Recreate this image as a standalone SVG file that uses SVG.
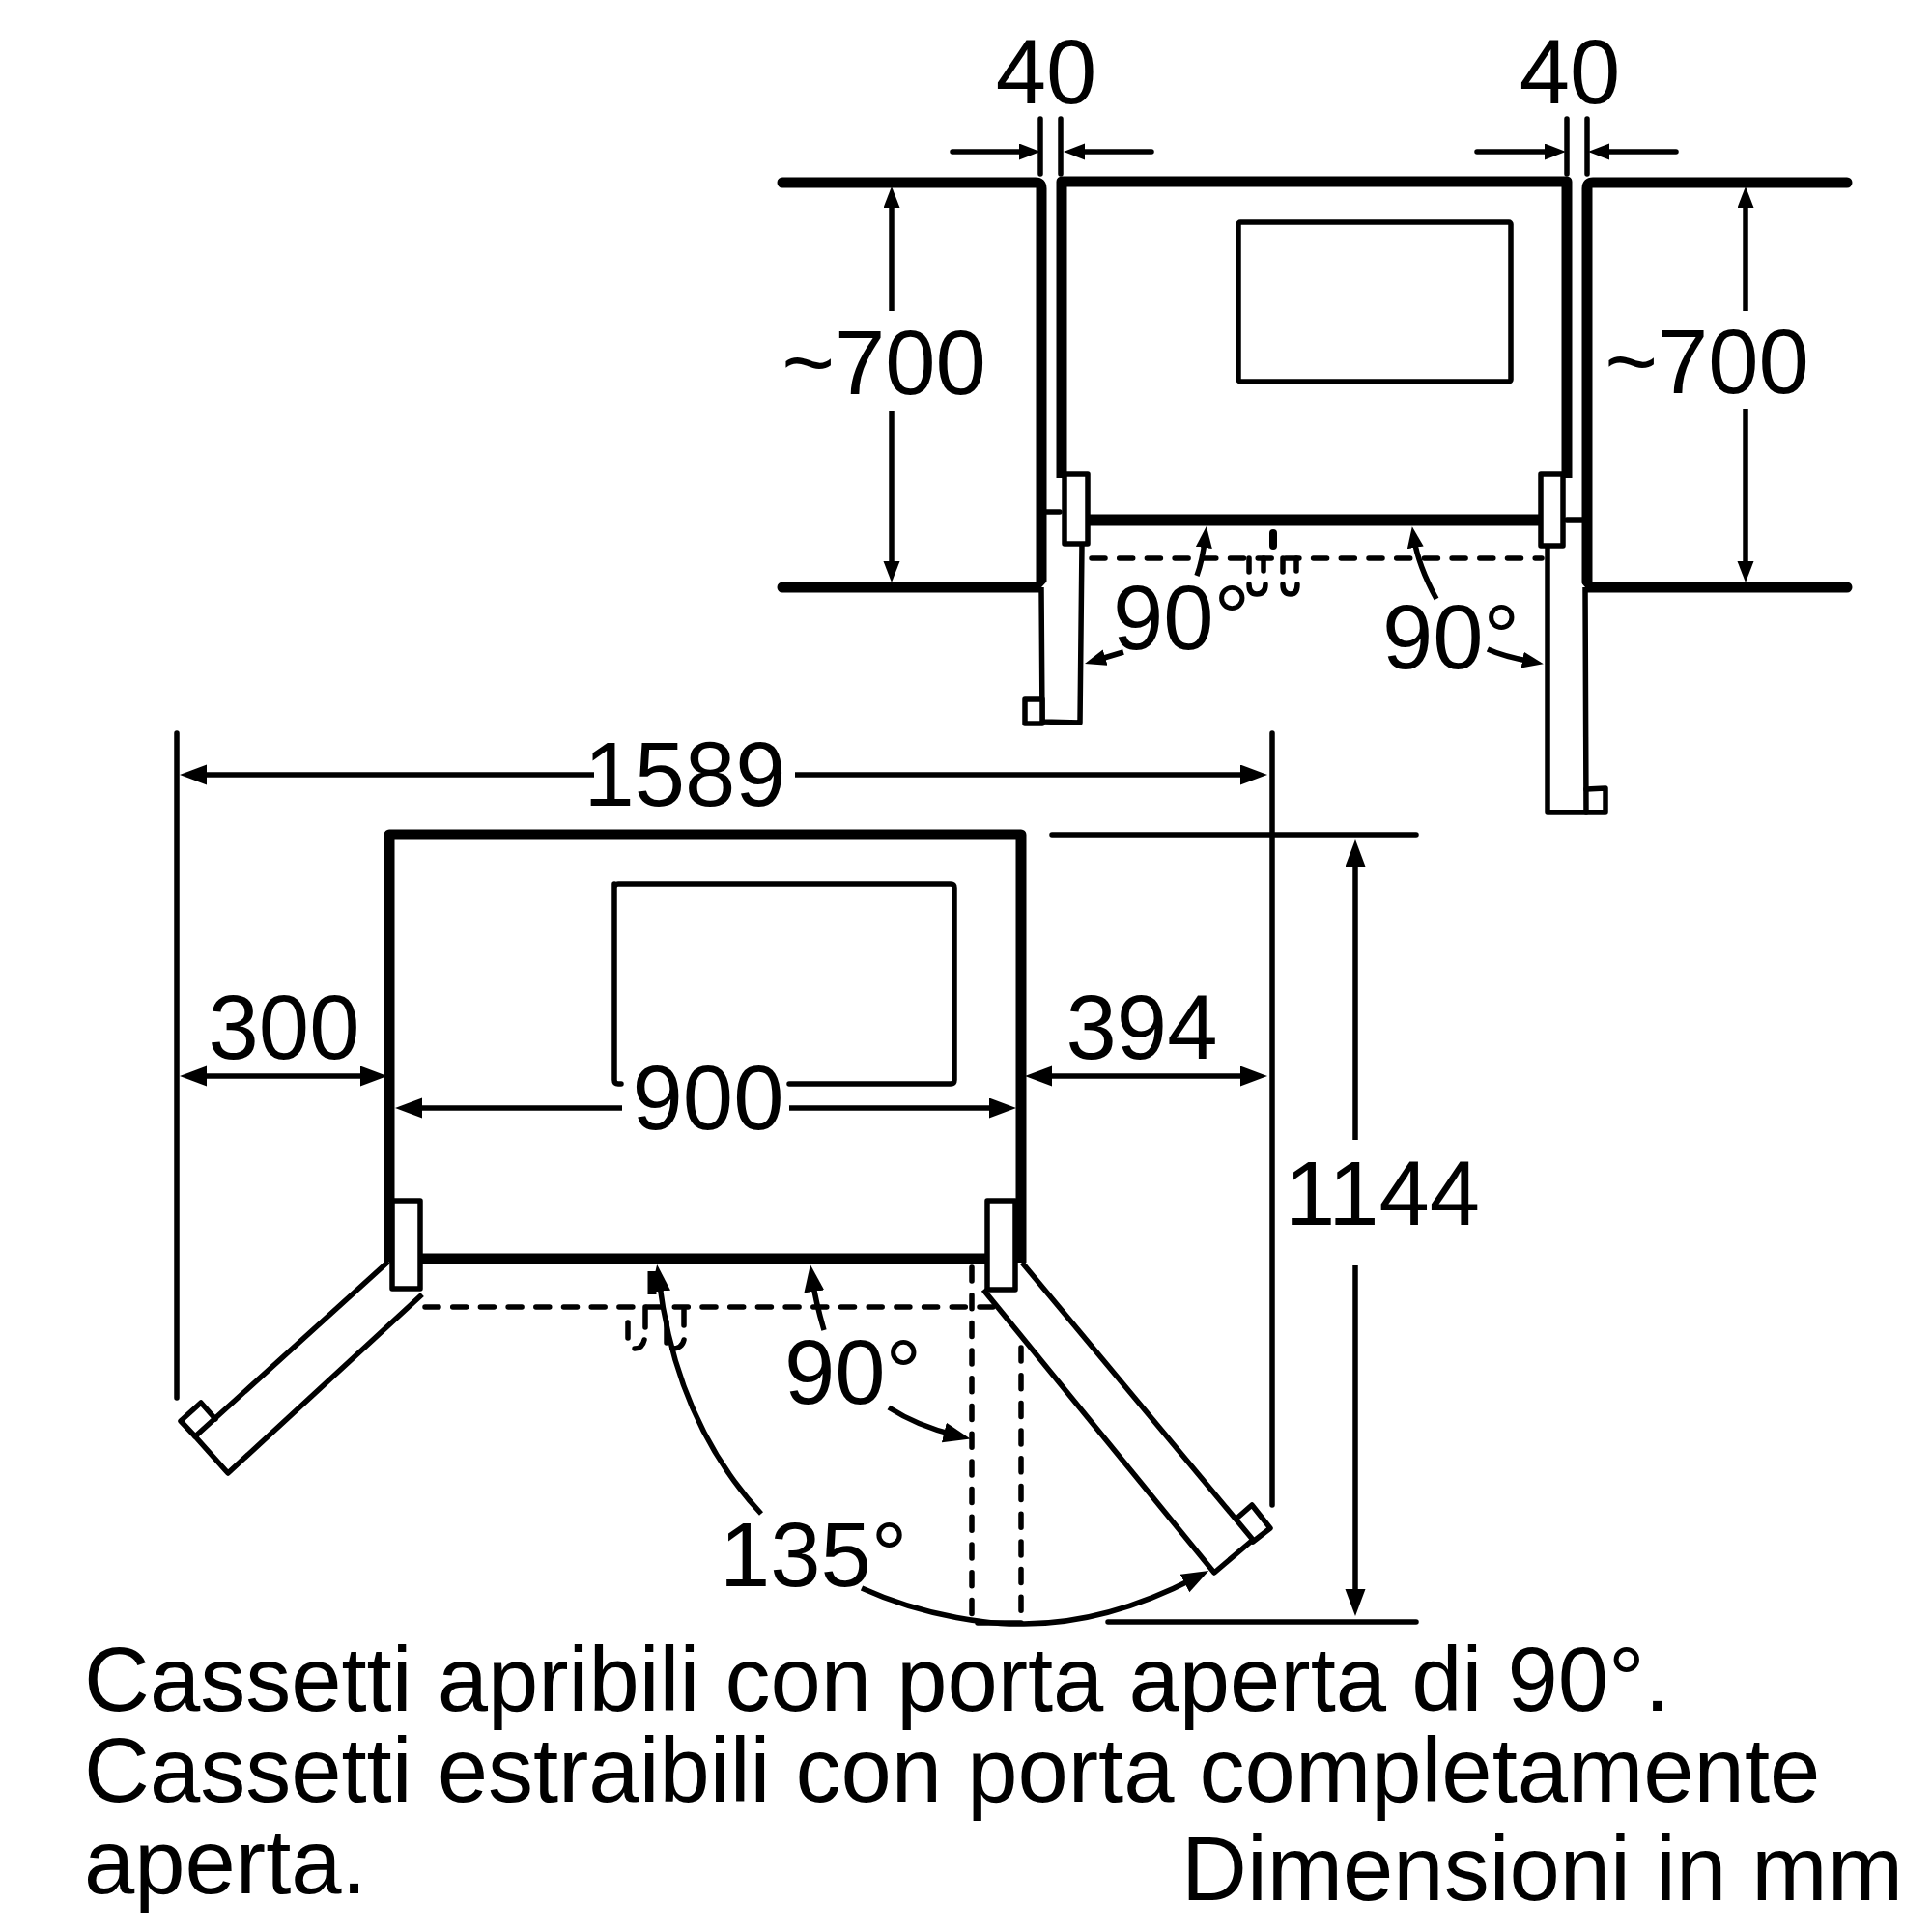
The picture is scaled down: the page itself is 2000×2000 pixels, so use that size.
<svg xmlns="http://www.w3.org/2000/svg" width="2000" height="2000" viewBox="0 0 2000 2000">
<style>
text{font-family:"Liberation Sans",Arial,sans-serif;font-size:94px;fill:#000}
.m{text-anchor:middle}
path,line,rect,polygon,polyline{stroke:#000;fill:none;stroke-linejoin:round}
.wall{stroke-width:11;stroke-linecap:round}
.thin{stroke-width:5.5;stroke-linecap:round}
.door{stroke-width:5.5;fill:#fff}
.dash{stroke-width:5.5;stroke-linecap:round;stroke-dasharray:14 14.7}
.stub{stroke-width:5.5;stroke-linecap:round}
.a{marker-end:url(#ah)}
.b{marker-end:url(#ahb)}
.bb{marker-start:url(#ahb);marker-end:url(#ahb)}
.arc{stroke-width:5.5}
</style>
<defs>
<marker id="ah" markerUnits="userSpaceOnUse" markerWidth="24" markerHeight="19" refX="10" refY="8.5" orient="auto-start-reverse"><path d="M0,0L22,8.5L0,17Z" style="fill:#000;stroke:none"/></marker>
<marker id="ahb" markerUnits="userSpaceOnUse" markerWidth="30" markerHeight="23" refX="13" refY="10.5" orient="auto-start-reverse"><path d="M0,0L28,10.5L0,21Z" style="fill:#000;stroke:none"/></marker>
</defs>

<g id="top-niche">
<path class="wall" d="M810,189H1072Q1078,189 1078,195V608H810"/>
<path class="wall" d="M1912,189H1649Q1643,189 1643,195V608H1912"/>
</g>
<g id="top-fridge">
<path class="wall" style="stroke-linecap:butt" d="M1099,495V188H1622V495"/>
<path class="wall" style="stroke-linecap:butt" d="M1120,538H1600"/>
<rect class="thin" x="1282" y="230" width="282" height="165" rx="2"/>
</g>
<g id="top-door-left">
<path class="door" d="M1078,608L1079,747L1118,748L1120,563"/>
<path class="stub" d="M1083,530H1097"/>
<rect class="thin" x="1061" y="724" width="18" height="25" style="fill:#fff"/>
<rect class="door" x="1102" y="491" width="24" height="72"/>
</g>
<g id="top-door-right">
<path class="door" d="M1602,563V841H1642L1641,608"/>
<path class="stub" d="M1622,538H1640"/>
<path class="thin" d="M1642,817L1662,816V841H1642"/>
<rect class="door" x="1595" y="491" width="23" height="74"/>
</g>
<g id="top-handles">
<line class="dash" x1="1130" y1="578" x2="1596" y2="578"/>
<path style="stroke-width:8;stroke-linecap:round" d="M1318,552V565"/>
<path class="stub" d="M1293,578V592M1308,578V591M1328,578V592M1342,578V591"/>
<path class="stub" d="M1293,605Q1293,615 1301,615Q1310,615 1310,605M1328,605Q1328,615 1336,615Q1343,615 1343,605"/>
</g>

<g id="plan-fridge">
<path class="wall" style="stroke-linecap:butt" d="M403,1307V864H1057V1307"/>
<path class="wall" style="stroke-linecap:butt" d="M432,1303H1024"/>
<path class="thin" d="M636,915V1118Q636,1122 640,1122H643M817,1122H984Q988,1122 988,1118V919Q988,915 984,915H640Q636,915 636,919"/>
</g>
<g id="plan-door-left">
<path class="door" d="M402,1306L202,1487L236,1525L437,1340"/>
<path class="thin" d="M202,1487L187,1471L208,1452L223,1469"/>
<rect class="door" x="406" y="1243" width="29" height="91"/>
</g>
<g id="plan-door-right">
<path class="door" d="M1058,1307L1297,1594L1257,1628L1018,1335"/>
<path class="thin" d="M1280,1572L1296,1558L1315,1582L1297,1596"/>
<rect class="door" x="1022" y="1243" width="29" height="92"/>
</g>
<g id="plan-handles">
<line class="dash" x1="440" y1="1353" x2="1028" y2="1353"/>
<line class="dash" x1="1006" y1="1312" x2="1006" y2="1676"/>
<line class="dash" x1="1057" y1="1395" x2="1057" y2="1672"/>
<path style="stroke-width:9" d="M675,1316V1340"/>
<path class="stub" d="M650,1369V1385M668,1353V1374M690,1368V1390M708,1356V1372"/>
<path class="stub" d="M667,1387Q665,1396 657,1396M708,1387Q706,1396 696,1396"/>
</g>

<g id="connectors">
<path class="thin" d="M1077,123V180M1098,123V180M1622,123V180M1643,123V180"/>
<path class="thin a" d="M986,157H1065"/>
<path class="thin a" d="M1192,157H1113"/>
<path class="thin a" d="M1529,157H1609"/>
<path class="thin a" d="M1735,157H1656"/>
<path class="thin a" style="stroke-linecap:butt" d="M923,322V205"/>
<path class="thin a" style="stroke-linecap:butt" d="M923,425V591"/>
<path class="thin a" style="stroke-linecap:butt" d="M1807,322V205"/>
<path class="thin a" style="stroke-linecap:butt" d="M1807,423V591"/>
<path class="arc a" d="M1239,596C1243,585 1246,570 1247.5,557"/>
<path class="arc a" d="M1487,620C1475,598 1467,578 1463.7,557"/>
<path class="arc a" d="M1163,675L1134.5,683.5"/>
<path class="arc a" d="M1540,672C1555,679 1570,682 1586,685"/>
<path class="thin" d="M183,759V1447M1317,759V1558"/>
<path class="thin" d="M1089,864H1466M1147,1679H1466M1012,1680H1057"/>
<path class="arc b" d="M615,802H201"/>
<path class="arc b" d="M823,802H1297"/>
<path class="arc bb" d="M201,1114H386"/>
<path class="arc bb" d="M1076,1114H1297"/>
<path class="arc b" d="M644,1147H424"/>
<path class="arc b" d="M817,1147H1037"/>
<path class="arc b" d="M1403,1180V884"/>
<path class="arc b" d="M1403,1310V1658"/>
<path class="arc b" d="M788,1567C735,1510 695,1430 682,1324"/>
<path class="arc b" d="M892,1644C960,1675 1030,1682 1060,1681C1130,1681 1190,1658 1238,1633"/>
<path class="arc b" d="M853,1377C848,1360 844,1345 841,1324"/>
<path class="arc b" d="M920,1457C940,1470 965,1480 990,1486"/>
</g>

<g id="labels">
<text class="m" x="1083" y="107">40</text>
<text class="m" x="1625" y="107">40</text>
<text class="m" x="915" y="408">~700</text>
<text class="m" x="1767" y="407">~700</text>
<text x="1152" y="672">90°</text>
<text x="1431" y="692">90°</text>
<text class="m" x="709" y="834">1589</text>
<text class="m" x="294" y="1096">300</text>
<text class="m" x="1182" y="1096">394</text>
<text class="m" x="733" y="1169">900</text>
<text class="m" x="1431" y="1268">1144</text>
<text x="812" y="1453">90°</text>
<text x="745" y="1642">135°</text>
<text x="87" y="1771">Cassetti apribili con porta aperta di 90°.</text>
<text x="87" y="1865">Cassetti estraibili con porta completamente</text>
<text x="87" y="1960">aperta.</text>
<text x="1223" y="1967">Dimensioni in mm</text>
</g>
</svg>
